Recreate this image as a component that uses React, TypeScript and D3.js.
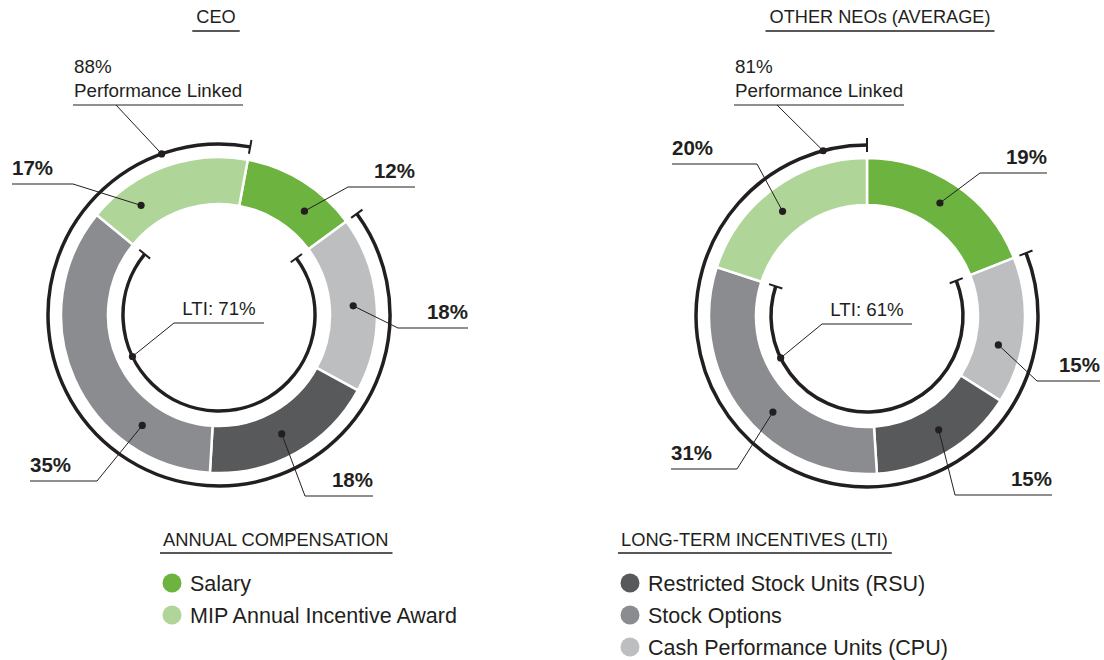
import React, { useEffect, useRef } from 'react';
import * as d3 from 'd3';

// segment order, clockwise from salary
const segmentKeys = ['Salary', 'CPU', 'RSU', 'Options', 'MIP'];
const segmentColors = ['#6db33f', '#bcbec0', '#58595b', '#8a8c8f', '#b0d598'];

const ceoValues = [12, 18, 18, 35, 17];
const neoValues = [19, 15, 15, 31, 20];

const chartTitles = ['CEO', 'OTHER NEOs (AVERAGE)'];
const ltiTotals = [71, 61];
const perfLinked = [88, 81];

const annualTitle = 'ANNUAL COMPENSATION';
const annualLegend = ['Salary', 'MIP Annual Incentive Award'];
const annualColors = ['#6db33f', '#b0d598'];
const ltiTitle = 'LONG-TERM INCENTIVES (LTI)';
const ltiLegend = ['Restricted Stock Units (RSU)', 'Stock Options', 'Cash Performance Units (CPU)'];
const ltiColors = ['#58595b', '#8a8c8f', '#bcbec0'];

// layout only (positions relative to each donut centre)
const layouts = [
  {
    cx: 219, cy: 315, start: 10.5, titleX: 216,
    dotT: [0.67, 0.5, 0.52, 0.25, 0.25],
    labels: [[129, 196, -128], [179, 249, 13], [86, 154, 181], [-189, -122, 166], [-207, -146, -131]],
    perf: { x: -146, w: 170, y: -210, lead: -103, t: 0.905 },
    ltiT: 0.746,
  },
  {
    cx: 867, cy: 316, start: 0, titleX: 880,
    dotT: [0.48, 0.63, 0.47, 0.43, 0.46],
    labels: [[113, 180, -143], [170, 233, 65], [88, 185, 179], [-196, -130, 153], [-195, -110, -152]],
    perf: { x: -133, w: 170, y: -211, lead: -90, t: 0.949 },
    ltiT: 0.8,
  },
];

const W = 1104;
const H = 660;
const FONT = '"Liberation Sans", Arial, Helvetica, sans-serif';
const INK = '#231f20';

const R_IN = 111;
const R_OUT = 158;
const R_MID = 134.5;
const R_PERF = 171;
const R_LTI = 96;

const rad = (deg: number) => (deg * Math.PI) / 180;
const pt = (r: number, a: number): [number, number] => [r * Math.sin(a), -r * Math.cos(a)];

function drawBracket(g: any, r: number, a0: number, a1: number) {
  const p = d3.path();
  p.arc(0, 0, r, a0 - Math.PI / 2, a1 - Math.PI / 2);
  g.append('path').attr('d', p.toString()).attr('fill', 'none')
    .attr('stroke', INK).attr('stroke-width', 3.5);
  [a0, a1].forEach(a => {
    const [x1, y1] = pt(r - 7, a);
    const [x2, y2] = pt(r + 7, a);
    g.append('line').attr('x1', x1).attr('y1', y1).attr('x2', x2).attr('y2', y2)
      .attr('stroke', INK).attr('stroke-width', 2);
  });
}

function dot(g: any, x: number, y: number) {
  g.append('circle').attr('cx', x).attr('cy', y).attr('r', 3.6).attr('fill', INK);
}

function leader(g: any, pts: [number, number][], w = 1) {
  g.append('path').attr('d', d3.line()(pts)).attr('fill', 'none')
    .attr('stroke', INK).attr('stroke-width', w);
}

const App = () => {
  const svgRef = useRef<SVGSVGElement>(null);

  useEffect(() => {
    document.body.style.margin = '0';
    const svg = d3.select(svgRef.current);
    svg.selectAll('*').remove();

    [ceoValues, neoValues].forEach((values, ci) => {
      const L = layouts[ci];
      const g = svg.append('g').attr('transform', `translate(${L.cx},${L.cy})`);

      const a0 = rad(L.start);
      const pie = d3.pie<number>().sort(null).value(d => d)
        .startAngle(a0).endAngle(a0 + Math.PI * 2);
      const arcs = pie(values);
      const ring = d3.arc<any>().innerRadius(R_IN).outerRadius(R_OUT);

      g.selectAll('path.seg').data(arcs).join('path')
        .attr('class', 'seg')
        .attr('d', ring)
        .attr('fill', (d: any, i: number) => segmentColors[i])
        .attr('stroke', '#fff').attr('stroke-width', 2.5);

      // performance linked = everything but salary
      const perfA0 = arcs[0].endAngle;
      const perfA1 = arcs[0].startAngle + Math.PI * 2;
      drawBracket(g, R_PERF, perfA0, perfA1);

      // LTI = CPU + RSU + Options
      const ltiA0 = arcs[1].startAngle;
      const ltiA1 = arcs[3].endAngle;
      drawBracket(g, R_LTI, ltiA0, ltiA1);

      // segment callouts
      arcs.forEach((a: any, i: number) => {
        const t = L.dotT[i];
        const ang = a.startAngle + (a.endAngle - a.startAngle) * t;
        const [dx, dy] = pt(R_MID, ang);
        const [x1, x2, y] = L.labels[i];
        const left = x2 < 0;
        const end: [number, number] = left ? [x2, y] : [x1, y];
        leader(g, [[dx, dy], end]);
        g.append('line').attr('x1', x1).attr('x2', x2).attr('y1', y).attr('y2', y)
          .attr('stroke', INK).attr('stroke-width', 1.2);
        dot(g, dx, dy);
        g.append('text')
          .attr('x', left ? x1 : x2).attr('y', y - 9)
          .attr('text-anchor', left ? 'start' : 'end')
          .attr('font-family', FONT).attr('font-size', 20.5).attr('font-weight', 700)
          .attr('fill', INK)
          .text(`${values[i]}%`);
      });

      // performance linked label
      const P = L.perf;
      const pAng = perfA0 + (perfA1 - perfA0) * P.t;
      const [px, py] = pt(R_PERF, pAng);
      leader(g, [[P.lead, P.y], [px, py]]);
      g.append('line').attr('x1', P.x).attr('x2', P.x + P.w).attr('y1', P.y).attr('y2', P.y)
        .attr('stroke', INK).attr('stroke-width', 1.2);
      dot(g, px, py);
      g.append('text').attr('x', P.x + 1).attr('y', P.y - 32)
        .attr('font-family', FONT).attr('font-size', 18.8).attr('fill', INK)
        .text(`${perfLinked[ci]}%`);
      g.append('text').attr('x', P.x + 1).attr('y', P.y - 8)
        .attr('font-family', FONT).attr('font-size', 18.8).attr('fill', INK)
        .text('Performance Linked');

      // LTI label
      const lAng = ltiA0 + (ltiA1 - ltiA0) * L.ltiT;
      const [lx, ly] = pt(R_LTI, lAng);
      leader(g, [[-45, 8], [lx, ly]]);
      g.append('line').attr('x1', -45).attr('x2', 45).attr('y1', 8).attr('y2', 8)
        .attr('stroke', INK).attr('stroke-width', 1.2);
      dot(g, lx, ly);
      g.append('text').attr('x', 0).attr('y', 0).attr('text-anchor', 'middle')
        .attr('font-family', FONT).attr('font-size', 18.7).attr('fill', INK)
        .text(`LTI: ${ltiTotals[ci]}%`);

      // chart title with underline
      const title = svg.append('text').attr('x', L.titleX).attr('y', 23)
        .attr('text-anchor', 'middle')
        .attr('font-family', FONT).attr('font-size', 18.2).attr('fill', INK)
        .text(chartTitles[ci]);
      const tw = (title.node() as SVGTextElement).getComputedTextLength();
      svg.append('line').attr('x1', L.titleX - tw / 2 - 4).attr('x2', L.titleX + tw / 2 + 4)
        .attr('y1', 31).attr('y2', 31).attr('stroke', INK).attr('stroke-width', 1.6);
    });

    // legends
    const legend = (x: number, heading: string, items: string[], colors: string[]) => {
      const h = svg.append('text').attr('x', x).attr('y', 546)
        .attr('font-family', FONT).attr('font-size', 18.3).attr('fill', INK)
        .text(heading);
      const hw = (h.node() as SVGTextElement).getComputedTextLength();
      svg.append('line').attr('x1', x - 3).attr('x2', x + hw + 4)
        .attr('y1', 553).attr('y2', 553).attr('stroke', INK).attr('stroke-width', 1.4);
      items.forEach((item, i) => {
        const yc = 583 + i * 32;
        svg.append('circle').attr('cx', x + 9).attr('cy', yc).attr('r', 9.5).attr('fill', colors[i]);
        svg.append('text').attr('x', x + 27).attr('y', yc + 7.5)
          .attr('font-family', FONT).attr('font-size', 21.5).attr('fill', INK)
          .text(item);
      });
    };
    legend(163, annualTitle, annualLegend, annualColors);
    legend(621, ltiTitle, ltiLegend, ltiColors);
  }, []);

  return (
    <svg ref={svgRef} width={W} height={H} style={{ display: 'block', background: '#fff' }} />
  );
};

export default App;
